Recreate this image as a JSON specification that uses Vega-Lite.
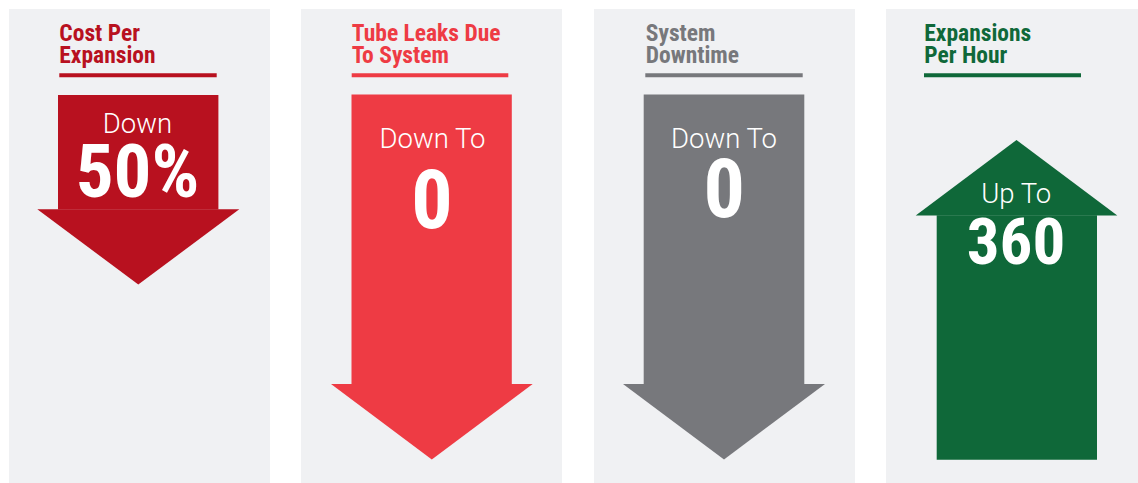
{
  "$schema": "https://vega.github.io/schema/vega-lite/v6.json",
  "width": 1138,
  "height": 483,
  "autosize": {"type": "fit", "contains": "padding"},
  "padding": 0,
  "background": "white",
  "config": {"view": {"stroke": null}},
  "datasets": {
    "panels": [
      {"panel": "cost", "x0": 9, "x1": 270, "y0": 9, "y1": 483},
      {"panel": "leaks", "x0": 301, "x1": 562, "y0": 9, "y1": 483},
      {"panel": "downtime", "x0": 594, "x1": 855, "y0": 9, "y1": 483},
      {"panel": "hour", "x0": 886, "x1": 1138, "y0": 9, "y1": 483}
    ],
    "underlines": [
      {"panel": "cost", "x0": 59.3, "x1": 216.7, "y0": 73.3, "y1": 77.3},
      {"panel": "leaks", "x0": 351.7, "x1": 508.3, "y0": 73.3, "y1": 77.3},
      {"panel": "downtime", "x0": 645.3, "x1": 802.7, "y0": 73.3, "y1": 77.3},
      {"panel": "hour", "x0": 924, "x1": 1081, "y0": 73.3, "y1": 77.3}
    ],
    "shafts": [
      {"panel": "cost", "x0": 58, "x1": 218.4, "y0": 95, "y1": 209.6},
      {"panel": "leaks", "x0": 351.5, "x1": 511.8, "y0": 94.4, "y1": 384.2},
      {"panel": "downtime", "x0": 643.7, "x1": 804.3, "y0": 94.4, "y1": 384.2},
      {"panel": "hour", "x0": 936.7, "x1": 1097, "y0": 215.2, "y1": 459.7}
    ],
    "heads": [
      {"panel": "cost", "y": 209.3, "xl": 37.3, "xr": 239.3},
      {"panel": "cost", "y": 284.5, "xl": 138.3, "xr": 138.3},
      {"panel": "leaks", "y": 384, "xl": 331, "xr": 532.7},
      {"panel": "leaks", "y": 459.5, "xl": 431.8, "xr": 431.8},
      {"panel": "downtime", "y": 384, "xl": 623, "xr": 825},
      {"panel": "downtime", "y": 459.5, "xl": 724, "xr": 724},
      {"panel": "hour", "y": 215.5, "xl": 915.7, "xr": 1117.3},
      {"panel": "hour", "y": 140, "xl": 1016.5, "xr": 1016.5}
    ],
    "titles": [
      {"panel": "cost", "x": 59.3, "y": 41, "text": "Cost Per\nExpansion"},
      {"panel": "leaks", "x": 351.7, "y": 41, "text": "Tube Leaks Due\nTo System"},
      {"panel": "downtime", "x": 645.8, "y": 41, "text": "System\nDowntime"},
      {"panel": "hour", "x": 924.3, "y": 41, "text": "Expansions\nPer Hour"}
    ],
    "labels": [
      {"panel": "cost", "x": 137.5, "y": 132.5, "text": "Down"},
      {"panel": "leaks", "x": 432.5, "y": 148.3, "text": "Down To"},
      {"panel": "downtime", "x": 724, "y": 148.3, "text": "Down To"},
      {"panel": "hour", "x": 1016.2, "y": 203.3, "text": "Up To"}
    ],
    "numbers": [
      {"panel": "cost", "x": 137.5, "y": 197, "text": "50%"},
      {"panel": "leaks", "x": 432, "y": 228, "text": "0"},
      {"panel": "downtime", "x": 724.3, "y": 217, "text": "0"},
      {"panel": "hour", "x": 1016, "y": 264, "text": "360"}
    ]
  },
  "layer": [
    {
      "data": {"name": "panels"},
      "mark": {"type": "rect", "color": "#f0f1f3"},
      "encoding": {
        "x": {"field": "x0", "type": "quantitative", "scale": {"domain": [0, 1138], "nice": false, "zero": false}, "axis": null},
        "x2": {"field": "x1"},
        "y": {"field": "y0", "type": "quantitative", "scale": {"domain": [0, 483], "reverse": true, "nice": false, "zero": false}, "axis": null},
        "y2": {"field": "y1"}
      }
    },
    {
      "data": {"name": "underlines"},
      "mark": {"type": "rect"},
      "encoding": {
        "x": {"field": "x0", "type": "quantitative", "scale": {"domain": [0, 1138], "nice": false, "zero": false}, "axis": null},
        "x2": {"field": "x1"},
        "y": {"field": "y0", "type": "quantitative", "scale": {"domain": [0, 483], "reverse": true, "nice": false, "zero": false}, "axis": null},
        "y2": {"field": "y1"},
        "color": {"field": "panel", "type": "nominal", "scale": {"domain": ["cost", "leaks", "downtime", "hour"], "range": ["#b8111f", "#ee3b44", "#77787c", "#0f6839"]}, "legend": null}
      }
    },
    {
      "data": {"name": "shafts"},
      "mark": {"type": "rect"},
      "encoding": {
        "x": {"field": "x0", "type": "quantitative", "scale": {"domain": [0, 1138], "nice": false, "zero": false}, "axis": null},
        "x2": {"field": "x1"},
        "y": {"field": "y0", "type": "quantitative", "scale": {"domain": [0, 483], "reverse": true, "nice": false, "zero": false}, "axis": null},
        "y2": {"field": "y1"},
        "color": {"field": "panel", "type": "nominal", "scale": {"domain": ["cost", "leaks", "downtime", "hour"], "range": ["#b8111f", "#ee3b44", "#77787c", "#0f6839"]}, "legend": null}
      }
    },
    {
      "data": {"name": "heads"},
      "mark": {"type": "area", "orient": "horizontal"},
      "encoding": {
        "y": {"field": "y", "type": "quantitative", "scale": {"domain": [0, 483], "reverse": true, "nice": false, "zero": false}, "axis": null},
        "x": {"field": "xl", "type": "quantitative", "stack": null, "scale": {"domain": [0, 1138], "nice": false, "zero": false}, "axis": null},
        "x2": {"field": "xr"},
        "color": {"field": "panel", "type": "nominal", "scale": {"domain": ["cost", "leaks", "downtime", "hour"], "range": ["#b8111f", "#ee3b44", "#77787c", "#0f6839"]}, "legend": null}
      }
    },
    {
      "data": {"name": "titles"},
      "mark": {"type": "text", "align": "left", "baseline": "alphabetic", "font": "Roboto Condensed, DejaVu Sans Condensed, Liberation Sans Narrow, Roboto, sans-serif", "fontWeight": "bold", "fontSize": 23.5, "lineBreak": "\n", "lineHeight": 21.7},
      "encoding": {
        "x": {"field": "x", "type": "quantitative", "scale": {"domain": [0, 1138], "nice": false, "zero": false}, "axis": null},
        "y": {"field": "y", "type": "quantitative", "scale": {"domain": [0, 483], "reverse": true, "nice": false, "zero": false}, "axis": null},
        "text": {"field": "text"},
        "color": {"field": "panel", "type": "nominal", "scale": {"domain": ["cost", "leaks", "downtime", "hour"], "range": ["#b8111f", "#ee3b44", "#77787c", "#0f6839"]}, "legend": null}
      }
    },
    {
      "data": {"name": "labels"},
      "mark": {"type": "text", "align": "center", "baseline": "alphabetic", "font": "Roboto, sans-serif", "fontWeight": 300, "fontSize": 27.5, "color": "white"},
      "encoding": {
        "x": {"field": "x", "type": "quantitative", "scale": {"domain": [0, 1138], "nice": false, "zero": false}, "axis": null},
        "y": {"field": "y", "type": "quantitative", "scale": {"domain": [0, 483], "reverse": true, "nice": false, "zero": false}, "axis": null},
        "text": {"field": "text"}
      }
    },
    {
      "data": {"name": "numbers"},
      "transform": [{"filter": "datum.panel == 'cost'"}],
      "mark": {"type": "text", "align": "center", "baseline": "alphabetic", "font": "Roboto Condensed, DejaVu Sans Condensed, Liberation Sans Narrow, Roboto, sans-serif", "fontWeight": "bold", "fontSize": 75, "color": "white"},
      "encoding": {
        "x": {"field": "x", "type": "quantitative", "scale": {"domain": [0, 1138], "nice": false, "zero": false}, "axis": null},
        "y": {"field": "y", "type": "quantitative", "scale": {"domain": [0, 483], "reverse": true, "nice": false, "zero": false}, "axis": null},
        "text": {"field": "text"}
      }
    },
    {
      "data": {"name": "numbers"},
      "transform": [{"filter": "datum.panel == 'leaks' || datum.panel == 'downtime'"}],
      "mark": {"type": "text", "align": "center", "baseline": "alphabetic", "font": "Roboto Condensed, DejaVu Sans Condensed, Liberation Sans Narrow, Roboto, sans-serif", "fontWeight": "bold", "fontSize": 82, "color": "white"},
      "encoding": {
        "x": {"field": "x", "type": "quantitative", "scale": {"domain": [0, 1138], "nice": false, "zero": false}, "axis": null},
        "y": {"field": "y", "type": "quantitative", "scale": {"domain": [0, 483], "reverse": true, "nice": false, "zero": false}, "axis": null},
        "text": {"field": "text"}
      }
    },
    {
      "data": {"name": "numbers"},
      "transform": [{"filter": "datum.panel == 'hour'"}],
      "mark": {"type": "text", "align": "center", "baseline": "alphabetic", "font": "Roboto Condensed, DejaVu Sans Condensed, Liberation Sans Narrow, Roboto, sans-serif", "fontWeight": "bold", "fontSize": 65, "color": "white"},
      "encoding": {
        "x": {"field": "x", "type": "quantitative", "scale": {"domain": [0, 1138], "nice": false, "zero": false}, "axis": null},
        "y": {"field": "y", "type": "quantitative", "scale": {"domain": [0, 483], "reverse": true, "nice": false, "zero": false}, "axis": null},
        "text": {"field": "text"}
      }
    }
  ]
}
